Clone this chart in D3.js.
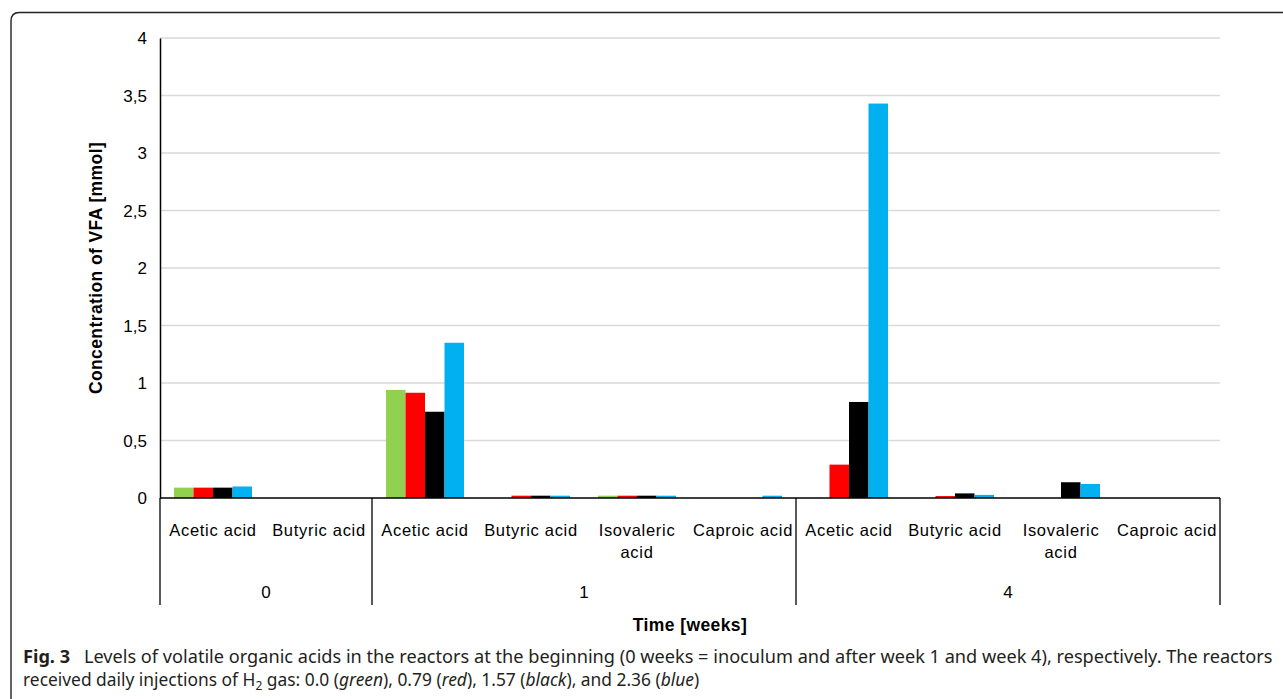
<!DOCTYPE html>
<html>
<head>
<meta charset="utf-8">
<script src="https://cdn.jsdelivr.net/npm/d3@7"></script>
<style>
  html, body { margin: 0; padding: 0; background: #fff; }
  svg { display: block; }
</style>
</head>
<body>
<svg id="chart" width="1283" height="699"></svg>
<script>
// ---- data ----
const categories = ["Acetic acid", "Butyric acid",
  "Acetic acid", "Butyric acid", "Isovaleric acid", "Caproic acid",
  "Acetic acid", "Butyric acid", "Isovaleric acid", "Caproic acid"];
const groupLabels = ["0", "1", "4"];
const groupSizes = [2, 4, 4];
const seriesNames = ["0.0", "0.79", "1.57", "2.36"];
const greenValues = [0.09, 0, 0.94, 0, 0.02, 0, 0, 0, 0, 0];
const redValues   = [0.09, 0, 0.915, 0.02, 0.02, 0, 0.29, 0.017, 0, 0];
const blackValues = [0.09, 0, 0.75, 0.02, 0.02, 0, 0.835, 0.04, 0.137, 0];
const blueValues  = [0.10, 0, 1.35, 0.02, 0.02, 0.02, 3.43, 0.027, 0.122, 0];
const yTicks = [0, 0.5, 1, 1.5, 2, 2.5, 3, 3.5, 4];
const colors = ["#92D050", "#FF0000", "#000000", "#00B0F0"];

const series = [greenValues, redValues, blackValues, blueValues];

(function () {
const svg = d3.select("#chart");
const mLeft = 160, mRight = 1220, mTop = 38, mBottom = 498;
const chartFont = "'Liberation Sans', Arial, sans-serif";

// figure border (rounded top-left)
svg.append("path")
  .attr("d", "M11,699 L11,21 Q11,12.5 19.5,12.5 L1283,12.5")
  .attr("fill", "none").attr("stroke", "#222").attr("stroke-width", 1.4);

const idx = categories.map((c, i) => i);
const x0 = d3.scaleBand().domain(idx).range([mLeft, mRight]).padding(0);
const x1 = d3.scaleBand().domain(d3.range(series.length))
  .range([14, x0.bandwidth() - 14]).padding(0);
const y = d3.scaleLinear().domain([0, 4]).range([mBottom, mTop]);

// gridlines
svg.append("g").selectAll("line").data(yTicks.filter(d => d > 0)).join("line")
  .attr("x1", mLeft).attr("x2", mRight)
  .attr("y1", d => y(d)).attr("y2", d => y(d))
  .attr("stroke", "#d9d9d9").attr("stroke-width", 1.5);

// bars
const barG = svg.append("g");
series.forEach((vals, s) => {
  barG.selectAll(null).data(vals.map((v, i) => ({v, i})).filter(d => d.v > 0))
    .join("rect")
    .attr("x", d => x0(d.i) + x1(s))
    .attr("width", x1.bandwidth())
    .attr("y", d => y(d.v))
    .attr("height", d => y(0) - y(d.v))
    .attr("fill", colors[s]);
});

// y axis
const yAxis = d3.axisLeft(y).tickValues(yTicks).tickSize(0).tickPadding(13)
  .tickFormat(d => String(d).replace(".", ","));
const yg = svg.append("g").attr("transform", `translate(${mLeft},0)`).call(yAxis);
yg.select(".domain").attr("stroke", "#000").attr("stroke-width", 1.5);
yg.selectAll("text").attr("font-family", chartFont).attr("font-size", 17)
  .attr("fill", "#000").attr("dy", "0.35em");

// x axis line
svg.append("line").attr("x1", mLeft).attr("x2", mRight)
  .attr("y1", mBottom).attr("y2", mBottom)
  .attr("stroke", "#000").attr("stroke-width", 1.5);

// group separators
const bounds = [0];
groupSizes.forEach(n => bounds.push(bounds[bounds.length - 1] + n));
const boundX = bounds.map(b => b < categories.length ? x0(b) : mRight);
svg.append("g").selectAll("line").data(boundX).join("line")
  .attr("x1", d => d).attr("x2", d => d)
  .attr("y1", mBottom).attr("y2", 605)
  .attr("stroke", "#000").attr("stroke-width", 1.3);

// category labels (wrapped)
const catG = svg.append("g");
categories.forEach((c, i) => {
  const t = catG.append("text")
    .attr("x", x0(i) + x0.bandwidth() / 2).attr("y", 536)
    .attr("text-anchor", "middle")
    .attr("font-family", chartFont).attr("font-size", 16.5)
    .attr("letter-spacing", "0.7px").attr("fill", "#000").text(c);
  if (t.node().getComputedTextLength() > x0.bandwidth() - 2) {
    const words = c.split(" ");
    t.text(null);
    words.forEach((w, k) => {
      t.append("tspan").attr("x", x0(i) + x0.bandwidth() / 2)
        .attr("dy", k === 0 ? 0 : 22).text(w);
    });
  }
});

// group labels
svg.append("g").selectAll("text").data(groupLabels).join("text")
  .attr("x", (d, g) => (boundX[g] + boundX[g + 1]) / 2)
  .attr("y", 598).attr("text-anchor", "middle")
  .attr("font-family", chartFont).attr("font-size", 17).attr("fill", "#000")
  .text(d => d);

// axis titles
svg.append("text").attr("x", 690).attr("y", 631).attr("text-anchor", "middle")
  .attr("font-family", chartFont).attr("font-size", 17.5).attr("font-weight", "bold")
  .attr("letter-spacing", "0.4px")
  .text("Time [weeks]");
svg.append("text").attr("transform", "translate(102,268) rotate(-90)")
  .attr("text-anchor", "middle")
  .attr("font-family", chartFont).attr("font-size", 17.5).attr("font-weight", "bold")
  .attr("letter-spacing", "0.4px")
  .text("Concentration of VFA [mmol]");

// caption
const capFont = "'Noto Sans', 'Open Sans', sans-serif";
function captionLine(yPos, parts, targetW) {
  const t = svg.append("text").attr("x", 23).attr("y", yPos)
    .attr("font-family", capFont).attr("font-size", 16).attr("fill", "#231f20");
  parts.forEach(p => {
    const ts = t.append("tspan").text(p.t);
    if (p.b) ts.attr("font-weight", "bold");
    if (p.i) ts.attr("font-style", "italic");
    if (p.sub) ts.attr("font-size", "11").attr("dy", 4);
    if (p.up) ts.attr("dy", -4);
  });
  // fit to target width using the real bounding box
  let w = t.node().getBBox().width;
  const k = targetW / w;
  t.attr("font-size", 16 * k);
  t.selectAll("tspan").each(function() {
    const s = d3.select(this);
    if (s.attr("font-size")) s.attr("font-size", 11 * k);
  });
  return t;
}
captionLine(663, [
  {t: "Fig. 3", b: true},
  {t: "\u2002 Levels of volatile organic acids in the reactors at the beginning (0 weeks = inoculum and after week 1 and week 4), respectively. The reactors"}
], 1250);
captionLine(686, [
  {t: "received daily injections of H"},
  {t: "2", sub: true},
  {t: " gas: 0.0 (", up: true},
  {t: "green", i: true}, {t: "), 0.79 ("}, {t: "red", i: true},
  {t: "), 1.57 ("}, {t: "black", i: true}, {t: "), and 2.36 ("},
  {t: "blue", i: true}, {t: ")"}
], 677);
})();
</script>
</body>
</html>
